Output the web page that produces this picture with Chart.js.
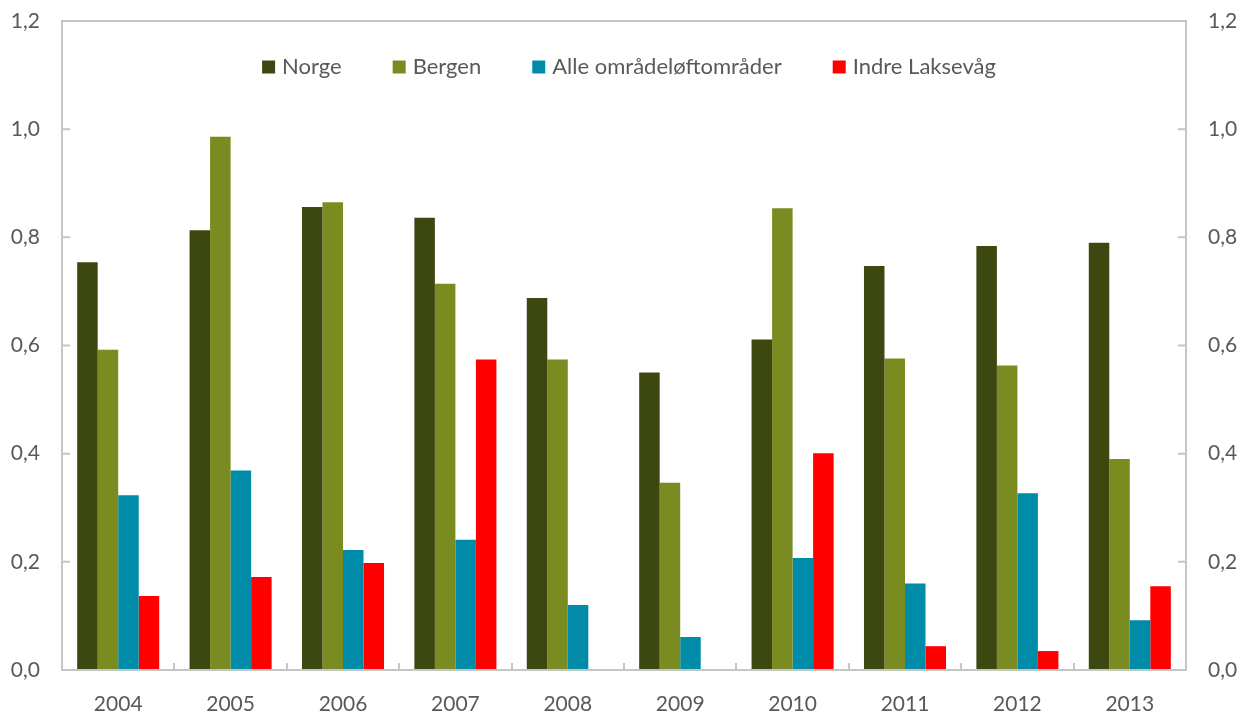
<!DOCTYPE html>
<html>
<head>
<meta charset="utf-8">
<script src="https://cdn.jsdelivr.net/npm/chart.js@4"></script>
<style>
  body { margin: 0; background: #fff; }
  #wrap { width: 1242px; height: 713px; }
</style>
</head>
<body>
<div id="wrap"><canvas id="barChart" width="1242" height="713"></canvas></div>
<script>
const years = ['2004', '2005', '2006', '2007', '2008', '2009', '2010', '2011', '2012', '2013'];
const norge = [0.754, 0.813, 0.856, 0.836, 0.688, 0.550, 0.611, 0.747, 0.784, 0.790];
const bergen = [0.592, 0.986, 0.865, 0.714, 0.574, 0.346, 0.854, 0.576, 0.563, 0.390];
const alleOmrader = [0.323, 0.369, 0.222, 0.241, 0.120, 0.061, 0.207, 0.160, 0.327, 0.092];
const indreLaksevag = [0.137, 0.172, 0.198, 0.574, 0, 0, 0.401, 0.044, 0.035, 0.155];
const yTicks = [0, 0.2, 0.4, 0.6, 0.8, 1.0, 1.2];

const textColor = '#595959';
const axisColor = '#BFC8C4';
const fontFamily = 'Lato, "Open Sans", sans-serif';

const ctx = document.getElementById('barChart').getContext('2d');

// box round the plot, with small inward ticks (Excel style)
const framePlugin = {
  id: 'frame',
  afterDatasetsDraw(chart) {
    const { ctx, chartArea: a, scales } = chart;
    ctx.save();
    ctx.strokeStyle = axisColor;
    ctx.lineWidth = 2;
    ctx.strokeRect(a.left, a.top, a.right - a.left, a.bottom - a.top);
    ctx.beginPath();
    yTicks.forEach(v => {
      const y = scales.y.getPixelForValue(v);
      ctx.moveTo(a.left, y); ctx.lineTo(a.left + 8, y);
      ctx.moveTo(a.right, y); ctx.lineTo(a.right - 8, y);
    });
    const step = (a.right - a.left) / years.length;
    for (let i = 1; i < years.length; i++) {
      const x = Math.round(a.left + step * i);
      ctx.moveTo(x, a.bottom); ctx.lineTo(x, a.bottom - 7);
    }
    ctx.stroke();
    ctx.restore();
  }
};

// legend drawn inside the plot area
const legendPlugin = {
  id: 'innerLegend',
  afterDraw(chart) {
    const { ctx } = chart;
    const sets = chart.data.datasets;
    ctx.save();
    ctx.font = '22px ' + fontFamily;
    ctx.textBaseline = 'middle';
    const box = 13, gap = 7, spacing = 51;
    let total = 0;
    sets.forEach((d, i) => {
      total += box + gap + ctx.measureText(d.label).width + (i < sets.length - 1 ? spacing : 0);
    });
    let x = 629 - total / 2;
    const y = 67;
    sets.forEach(d => {
      ctx.fillStyle = d.backgroundColor;
      ctx.fillRect(x, y - box / 2, box, box);
      x += box + gap;
      ctx.fillStyle = textColor;
      ctx.fillText(d.label, x, y);
      x += ctx.measureText(d.label).width + spacing;
    });
    ctx.restore();
  }
};

const fmt = v => Number(v).toFixed(1).replace('.', ',');

const chart = new Chart(ctx, {
  type: 'bar',
  data: {
    labels: years,
    datasets: [
      { label: 'Norge', data: norge, backgroundColor: '#3D4811' },
      { label: 'Bergen', data: bergen, backgroundColor: '#7A8C21' },
      { label: 'Alle områdeløftområder', data: alleOmrader, backgroundColor: '#008BA8' },
      { label: 'Indre Laksevåg', data: indreLaksevag, backgroundColor: '#FF0000' },
    ],
  },
  options: {
    responsive: false,
    animation: false,
    devicePixelRatio: 1,
    layout: { padding: { top: 21, left: 0, right: 0, bottom: 0 } },
    datasets: { bar: { categoryPercentage: 0.73, barPercentage: 1.0, borderWidth: 0 } },
    plugins: {
      legend: { display: false },
      tooltip: { enabled: false },
    },
    scales: {
      x: {
        grid: { display: false },
        border: { display: false },
        ticks: { color: textColor, font: { family: fontFamily, size: 21 }, padding: 14, maxRotation: 0 },
        afterFit(scale) { scale.height = 43; },
      },
      y: {
        position: 'left',
        min: 0, max: 1.2,
        grid: { display: false, drawTicks: false },
        border: { display: false },
        ticks: { stepSize: 0.2, padding: 22, color: textColor, font: { family: fontFamily, size: 21 }, callback: fmt },
        afterFit(scale) { scale.width = 62; scale.paddingTop = 0; scale.paddingBottom = 0; },
      },
      y2: {
        position: 'right',
        min: 0, max: 1.2,
        grid: { display: false, drawTicks: false },
        border: { display: false },
        ticks: { stepSize: 0.2, padding: 22, color: textColor, font: { family: fontFamily, size: 21 }, callback: fmt },
        afterFit(scale) { scale.width = 56; scale.paddingTop = 0; scale.paddingBottom = 0; },
      },
    },
  },
  plugins: [framePlugin, legendPlugin],
});
</script>
</body>
</html>
